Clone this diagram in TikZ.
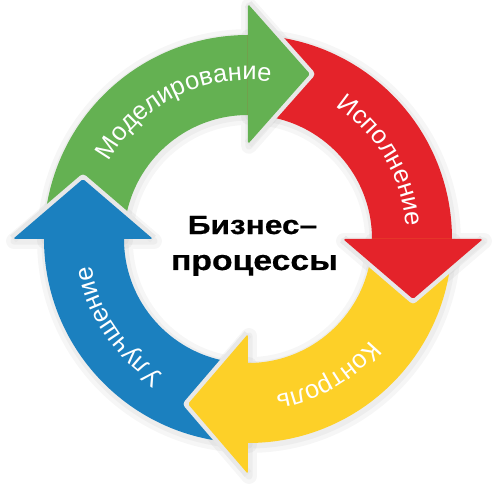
\documentclass[tikz,border=0pt]{standalone}
\usepackage{fontspec}
\setmainfont{Liberation Sans}
\newfontfamily\heavyfont[FakeStretch=1.2, FakeBold=0.6]{Liberation Sans Bold}
\usepackage{tikz}
\usetikzlibrary{decorations.text}

\definecolor{modgreen}{HTML}{64B152}
\definecolor{execred}{HTML}{E4232A}
\definecolor{ctrlyellow}{HTML}{FDD028}
\definecolor{imprblue}{HTML}{1B80BF}

\tikzset{
  softglow/.style={draw=black, draw opacity=0.035, line join=round, shift={(1,-2)}},
  headgap/.style={draw=black!9, line width=5pt, line join=round},
  arclabel/.style={decorate, decoration={text along path, text align={fit to path},
      text={|\color{white}\fontsize{14.5}{14.5}\selectfont|#1}}},
  centerline/.style={anchor=base, text=black},
}

\begin{document}
\begin{tikzpicture}[x=0.02cm, y=0.02cm]
    \useasboundingbox (-248,-258) rectangle (248,239);
    \draw[softglow, line width=9pt] (180:204) arc[start angle=180, end angle=90, radius=204] -- (0,235) -- (62,165) -- (0,95) -- (90:124) arc[start angle=90, end angle=180, radius=124] -- cycle;
    \draw[softglow, line width=9pt] (90:204) arc[start angle=90, end angle=0, radius=204] -- (235,0) -- (165,-60) -- (95,0) -- (0:124) arc[start angle=0, end angle=90, radius=124] -- cycle;
    \draw[softglow, line width=9pt] (0:204) arc[start angle=0, end angle=-90, radius=204] -- (0,-235) -- (-60,-165) -- (0,-95) -- (-90:124) arc[start angle=-90, end angle=0, radius=124] -- cycle;
    \draw[softglow, line width=9pt] (270:204) arc[start angle=270, end angle=180, radius=204] -- (-235,0) -- (-165,60) -- (-95,0) -- (180:124) arc[start angle=180, end angle=270, radius=124] -- cycle;
    \draw[softglow, line width=4pt] (180:204) arc[start angle=180, end angle=90, radius=204] -- (0,235) -- (62,165) -- (0,95) -- (90:124) arc[start angle=90, end angle=180, radius=124] -- cycle;
    \draw[softglow, line width=4pt] (90:204) arc[start angle=90, end angle=0, radius=204] -- (235,0) -- (165,-60) -- (95,0) -- (0:124) arc[start angle=0, end angle=90, radius=124] -- cycle;
    \draw[softglow, line width=4pt] (0:204) arc[start angle=0, end angle=-90, radius=204] -- (0,-235) -- (-60,-165) -- (0,-95) -- (-90:124) arc[start angle=-90, end angle=0, radius=124] -- cycle;
    \draw[softglow, line width=4pt] (270:204) arc[start angle=270, end angle=180, radius=204] -- (-235,0) -- (-165,60) -- (-95,0) -- (180:124) arc[start angle=180, end angle=270, radius=124] -- cycle;
    \fill[modgreen] (180:204) arc[start angle=180, end angle=90, radius=204] -- (90:124) arc[start angle=90, end angle=180, radius=124] -- cycle;
    \fill[execred] (90:204) arc[start angle=90, end angle=0, radius=204] -- (0:124) arc[start angle=0, end angle=90, radius=124] -- cycle;
    \fill[ctrlyellow] (0:204) arc[start angle=0, end angle=-90, radius=204] -- (-90:124) arc[start angle=-90, end angle=0, radius=124] -- cycle;
    \fill[imprblue] (270:204) arc[start angle=270, end angle=180, radius=204] -- (180:124) arc[start angle=180, end angle=270, radius=124] -- cycle;
    \draw[headgap] (0,235) -- (62,165) -- (0,95);
    \fill[modgreen, rounded corners=1pt] (0,235) -- (62,165) -- (0,95) -- cycle;
    \draw[headgap] (235,0) -- (165,-60) -- (95,0);
    \fill[execred, rounded corners=1pt] (235,0) -- (165,-60) -- (95,0) -- cycle;
    \draw[headgap] (0,-235) -- (-60,-165) -- (0,-95);
    \fill[ctrlyellow, rounded corners=1pt] (0,-235) -- (-60,-165) -- (0,-95) -- cycle;
    \draw[headgap] (-235,0) -- (-165,60) -- (-95,0);
    \fill[imprblue, rounded corners=1pt] (-235,0) -- (-165,60) -- (-95,0) -- cycle;
    \path[arclabel=Моделирование] (151:159) arc[start angle=151, end angle=83, radius=159];
    \path[arclabel=Исполнение] (56.5:159) arc[start angle=56.5, end angle=4.5, radius=159];
    \path[arclabel=Контроль] (-39.5:159) arc[start angle=-39.5, end angle=-80, radius=159];
    \path[arclabel=Улучшение] (238:159) arc[start angle=238, end angle=190.5, radius=159];
    \node[centerline, font=\heavyfont\fontsize{15}{17}\selectfont] (bizword) at (4.5,5) {Бизнес–};
    \node[centerline, font=\heavyfont\fontsize{16}{19}\selectfont] (procword) at (6.5,-31) {процессы};
\end{tikzpicture}
\end{document}
